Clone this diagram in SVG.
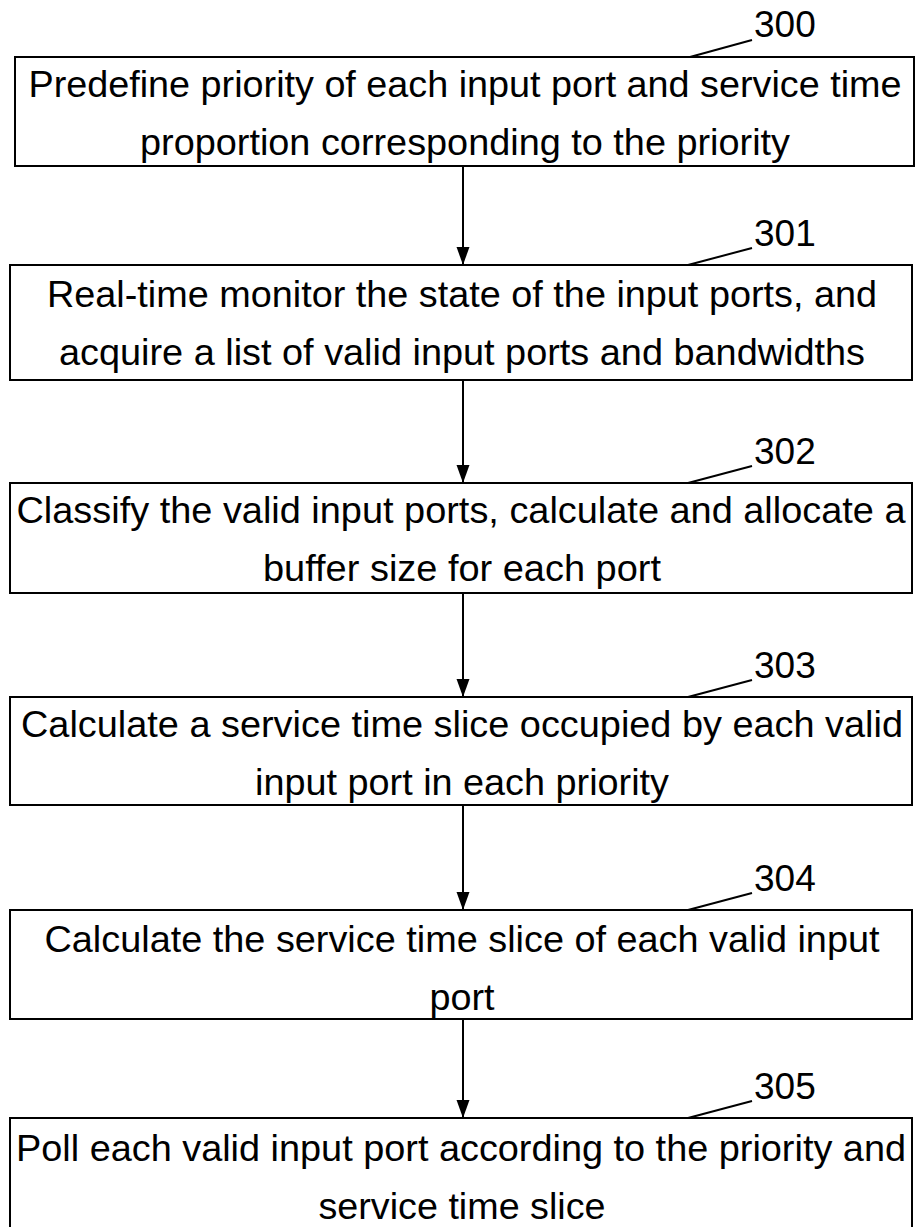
<svg xmlns="http://www.w3.org/2000/svg" width="917" height="1227" viewBox="0 0 917 1227">
<style>
.box{fill:#fff;stroke:#000;stroke-width:2}
.t{font-family:"Liberation Sans",Arial,sans-serif;font-size:37px;fill:#000;text-anchor:middle}
.lbl{font-family:"Liberation Sans",Arial,sans-serif;font-size:37px;fill:#000}
.conn{stroke:#000;stroke-width:2;fill:none}
.lead{stroke:#000;stroke-width:2;fill:none}
</style>
<defs>
<marker id="ah" markerUnits="userSpaceOnUse" markerWidth="18" markerHeight="26" refX="25" refY="9" orient="auto" viewBox="0 0 25 18">
<path d="M0,0 L25,9 L0,18 Z" fill="#000"/>
</marker>
</defs>
<g id="connectors">
<line class="conn" x1="463" y1="166" x2="463" y2="265" marker-end="url(#ah)"/>
<line class="conn" x1="463" y1="380" x2="463" y2="483" marker-end="url(#ah)"/>
<line class="conn" x1="463" y1="593" x2="463" y2="697" marker-end="url(#ah)"/>
<line class="conn" x1="463" y1="805" x2="463" y2="910" marker-end="url(#ah)"/>
<line class="conn" x1="463" y1="1019" x2="463" y2="1118" marker-end="url(#ah)"/>
</g>
<g id="n300">
<rect class="box" x="15" y="57" width="899" height="109"/>
<text class="t" x="465" y="97" textLength="873" lengthAdjust="spacingAndGlyphs">Predefine priority of each input port and service time</text>
<text class="t" x="465" y="155" textLength="650" lengthAdjust="spacingAndGlyphs">proportion corresponding to the priority</text>
<line class="lead" x1="690" y1="57" x2="752" y2="40"/>
<text class="lbl" x="754" y="37">300</text>
</g>
<g id="n301">
<rect class="box" x="10" y="265" width="902" height="115"/>
<text class="t" x="462" y="307" textLength="830" lengthAdjust="spacingAndGlyphs">Real-time monitor the state of the input ports, and</text>
<text class="t" x="462" y="365" textLength="806" lengthAdjust="spacingAndGlyphs">acquire a list of valid input ports and bandwidths</text>
<line class="lead" x1="688" y1="265" x2="752" y2="248"/>
<text class="lbl" x="754" y="246">301</text>
</g>
<g id="n302">
<rect class="box" x="10" y="483" width="902" height="110"/>
<text class="t" x="461" y="523" textLength="889" lengthAdjust="spacingAndGlyphs">Classify the valid input ports, calculate and allocate a</text>
<text class="t" x="462" y="581" textLength="398" lengthAdjust="spacingAndGlyphs">buffer size for each port</text>
<line class="lead" x1="688" y1="483" x2="752" y2="466"/>
<text class="lbl" x="754" y="464">302</text>
</g>
<g id="n303">
<rect class="box" x="10" y="697" width="902" height="108"/>
<text class="t" x="462" y="737" textLength="882" lengthAdjust="spacingAndGlyphs">Calculate a service time slice occupied by each valid</text>
<text class="t" x="462" y="795" textLength="414" lengthAdjust="spacingAndGlyphs">input port in each priority</text>
<line class="lead" x1="688" y1="697" x2="752" y2="680"/>
<text class="lbl" x="754" y="678">303</text>
</g>
<g id="n304">
<rect class="box" x="10" y="910" width="902" height="109"/>
<text class="t" x="462" y="952" textLength="835" lengthAdjust="spacingAndGlyphs">Calculate the service time slice of each valid input</text>
<text class="t" x="462" y="1010" textLength="65" lengthAdjust="spacingAndGlyphs">port</text>
<line class="lead" x1="688" y1="910" x2="752" y2="893"/>
<text class="lbl" x="754" y="891">304</text>
</g>
<g id="n305">
<rect class="box" x="10" y="1118" width="902" height="112"/>
<text class="t" x="461" y="1161" textLength="890" lengthAdjust="spacingAndGlyphs">Poll each valid input port according to the priority and</text>
<text class="t" x="462" y="1219" textLength="287" lengthAdjust="spacingAndGlyphs">service time slice</text>
<line class="lead" x1="688" y1="1118" x2="752" y2="1101"/>
<text class="lbl" x="754" y="1099">305</text>
</g>
</svg>
